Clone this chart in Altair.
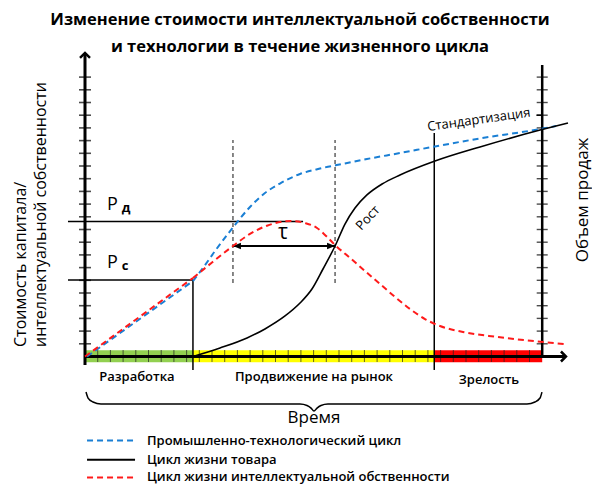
import altair as alt
import pandas as pd

# ---------------- data (x = time in tick units, y = value in tick units) ----------------
# industrial-technological cycle (blue dashed): straight start, then curve
blue_start_t = [0.16, 8.50]
blue_start_v = [0.00, 5.94]
blue_t = [8.50, 9.29, 10.24, 11.65, 12.99, 14.17, 15.35, 16.93, 18.50, 20.47, 22.20, 24.80, 27.56, 31.10, 35.83, 37.09]
blue_v = [5.94, 6.97, 8.31, 10.16, 11.77, 12.87, 13.62, 14.37, 14.80, 15.20, 15.55, 16.02, 16.54, 17.17, 17.91, 18.15]
# product life cycle (black solid)
black_t = [8.50, 10.63, 12.76, 14.17, 15.75, 16.93, 17.87, 18.74, 19.69, 20.47, 21.26, 22.20, 23.39, 24.80, 27.56, 31.10, 35.83, 38.03]
black_v = [0.00, 0.67, 1.46, 2.17, 3.19, 4.21, 5.31, 6.89, 8.70, 10.43, 11.69, 12.72, 13.58, 14.29, 15.39, 16.50, 17.83, 18.39]
# intellectual property life cycle (red dashed): straight start, then curve
red_start_t = [0.00, 8.50]
red_start_v = [0.00, 6.18]
red_t = [8.50, 10.00, 11.65, 12.99, 14.33, 15.59, 16.22, 17.32, 18.27, 18.98, 19.69, 20.87, 22.05, 23.23, 24.41,
         25.59, 26.77, 27.95, 29.76, 32.44, 36.06, 37.80]
red_v = [6.18, 7.40, 8.70, 9.65, 10.30, 10.62, 10.67, 10.51, 10.12, 9.49, 8.78, 7.76, 6.73, 5.71, 4.69,
         3.74, 2.95, 2.40, 1.93, 1.54, 1.14, 0.98]

P_D = 10.63          # Pд level
P_C = 6.02           # Pс level
T_DEV_END = 8.5      # end of development
T_MATURE = 27.5      # start of maturity / standardisation
T_END = 36           # right (sales) axis
TAU = [11.65, 19.69] # τ interval
Y_TICKS = list(range(1, 23))
X_TICKS = list(range(1, 36))

phases = ["Разработка", "Продвижение на рынок", "Зрелость"]
phase_start = [0, 8.5, 27.5]
phase_end = [8.5, 27.5, 36]
phase_colors = ["#92d050", "#ffff00", "#ff0000"]
phase_label_t = [4.09, 18.03, 31.81]
phase_label_v = [-1.61, -1.61, -1.85]

legend_labels = ["Промышленно-технологический цикл", "Цикл жизни товара",
                 "Цикл жизни интеллектуальной обственности"]
legend_v = [-6.62, -8.12, -9.52]

brace_t = [0.08, 0.24, 0.63, 1.26, 16.93, 17.48, 17.80, 18.03, 18.27, 18.58, 19.13, 34.80, 35.43, 35.83, 35.98]
brace_v = [-2.80, -3.27, -3.58, -3.74, -3.74, -3.86, -4.06, -4.29, -4.06, -3.86, -3.74, -3.74, -3.58, -3.27, -2.80]

title_lines = ["Изменение стоимости интеллектуальной собственности",
               "и технологии в течение жизненного цикла"]
y_title = ["Стоимость капитала/", "интеллектуальной собственности"]
y2_title = "Объем продаж"

# ---------------- scales ----------------
XS = alt.Scale(domain=[-6.063, 39.921], nice=False, zero=False)
YS = alt.Scale(domain=[-10.118, 27.441], nice=False, zero=False)
FONT = "Open Sans"
BLUE = "#1a7fd4"
RED = "#ff1a1a"


def ex(f):
    return alt.X(f, type="quantitative", scale=XS, axis=None)


def ey(f):
    return alt.Y(f, type="quantitative", scale=YS, axis=None)


def curve(ts, vs, color, dash=None, width=2.0, interp="monotone"):
    df = pd.DataFrame({"t": ts, "v": vs, "i": list(range(len(ts)))})
    kw = dict(color=color, strokeWidth=width, interpolate=interp)
    if dash:
        kw["strokeDash"] = dash
    return alt.Chart(df).mark_line(**kw).encode(x=ex("t"), y=ey("v"), order="i:Q")


def segs(rows, **style):
    df = pd.DataFrame(rows, columns=["t", "t2", "v", "v2"])
    return alt.Chart(df).mark_rule(**style).encode(x=ex("t"), x2="t2", y=ey("v"), y2="v2")


def texts(rows, **style):
    df = pd.DataFrame(rows, columns=["t", "v", "label"])
    return alt.Chart(df).mark_text(font=FONT, **style).encode(x=ex("t"), y=ey("v"), text="label:N")


layers = []

# phase band
band = pd.DataFrame({"t": phase_start, "t2": phase_end, "phase": phases,
                     "v": [-0.45] * 3, "v2": [0.5] * 3})
layers.append(alt.Chart(band).mark_rect().encode(
    x=ex("t"), x2="t2", y=ey("v"), y2="v2",
    color=alt.Color("phase:N", scale=alt.Scale(domain=phases, range=phase_colors), legend=None)))
# band ticks
layers.append(alt.Chart(pd.DataFrame({"t": X_TICKS, "v": [0.04] * len(X_TICKS)})).mark_tick(
    orient="vertical", size=12, thickness=1, color="#222").encode(x=ex("t"), y=ey("v")))

# axes
layers.append(segs([[0, 0, -0.67, 23.9]], color="black", strokeWidth=3))          # left axis
layers.append(segs([[0, 37.8, 0, 0]], color="black", strokeWidth=3))             # time axis
layers.append(segs([[T_END, T_END, 0, 22.95]], color="black", strokeWidth=2.5))  # sales axis
layers.append(alt.Chart(pd.DataFrame({"t": [0] * len(Y_TICKS), "v": Y_TICKS})).mark_tick(
    orient="horizontal", size=12, thickness=1.6, color="black").encode(x=ex("t"), y=ey("v")))
layers.append(alt.Chart(pd.DataFrame({"t": [T_END] * len(Y_TICKS), "v": Y_TICKS})).mark_tick(
    orient="horizontal", size=11, thickness=1.4, color="black").encode(x=ex("t"), y=ey("v")))
# arrow heads
layers.append(alt.Chart(pd.DataFrame({"t": [0], "v": [23.9]})).mark_point(
    shape="M-1,1L0,0L1,1", size=100, filled=False, strokeWidth=2.5, color="black", opacity=1
).encode(x=ex("t"), y=ey("v")))
layers.append(alt.Chart(pd.DataFrame({"t": [37.87], "v": [0]})).mark_point(
    shape="M-1,-1L0,0L-1,1", size=100, filled=False, strokeWidth=2.5, color="black", opacity=1
).encode(x=ex("t"), y=ey("v")))

# Pд / Pс guide lines, phase boundaries
layers.append(segs([[-1.34, 17.17, P_D, P_D], [-1.34, T_DEV_END, P_C, P_C],
                    [T_DEV_END, T_DEV_END, -1.06, P_C], [T_MATURE, T_MATURE, -1.06, 17.6],
                    [35.55, T_END, 19.0, 19.0]],
                   color="black", strokeWidth=1.5))
# τ dashed guides
layers.append(segs([[TAU[0], TAU[0], 5.79, 17.05], [TAU[1], TAU[1], 5.79, 17.05]],
                   color="#555", strokeWidth=1.4, strokeDash=[4, 3]))
# τ arrow
layers.append(segs([[TAU[0], TAU[1], 8.70, 8.70]], color="black", strokeWidth=2))
layers.append(alt.Chart(pd.DataFrame({"t": [TAU[0]], "v": [8.70]})).mark_point(
    shape="M0,0L2,-0.8L2,0.8Z", size=64, filled=True, color="black", opacity=1
).encode(x=ex("t"), y=ey("v")))
layers.append(alt.Chart(pd.DataFrame({"t": [TAU[1]], "v": [8.70]})).mark_point(
    shape="M0,0L-2,-0.8L-2,0.8Z", size=64, filled=True, color="black", opacity=1
).encode(x=ex("t"), y=ey("v")))

# curves
layers.append(curve(blue_start_t, blue_start_v, BLUE, dash=[6, 4], width=2, interp="linear"))
layers.append(curve(blue_t, blue_v, BLUE, dash=[6, 4], width=2))
layers.append(curve(black_t, black_v, "black", width=1.6))
layers.append(curve(red_start_t, red_start_v, RED, dash=[6, 4], width=2, interp="linear"))
layers.append(curve(red_t, red_v, RED, dash=[6, 4], width=2))

# brace
layers.append(curve(brace_t, brace_v, "black", width=1.5))

# legend samples
layers.append(segs([[0.16, 3.94, legend_v[0], legend_v[0]]], color=BLUE, strokeWidth=2, strokeDash=[6, 4]))
layers.append(segs([[0.16, 3.94, legend_v[1], legend_v[1]]], color="black", strokeWidth=2))
layers.append(segs([[0.16, 3.94, legend_v[2], legend_v[2]]], color=RED, strokeWidth=2, strokeDash=[6, 4]))
layers.append(texts([[4.88, v, l] for v, l in zip(legend_v, legend_labels)],
                    align="left", baseline="middle", fontSize=13, fontWeight=600, color="black"))

# texts
layers.append(texts([[16.93, 26.5, title_lines[0]], [16.93, 24.4, title_lines[1]]],
                    align="center", baseline="middle", fontSize=16.5, fontWeight="bold", color="black"))
layers.append(texts([[t, v, l] for t, v, l in zip(phase_label_t, phase_label_v, phases)],
                    align="center", baseline="middle", fontSize=13, fontWeight=600, color="black"))
layers.append(texts([[18.03, -4.84, "Время"]], align="center", baseline="middle", fontSize=17, color="black"))
layers.append(texts([[1.73, 11.54, "Р"], [1.73, 6.97, "Р"]],
                    align="left", baseline="alphabetic", fontSize=18, color="black"))
layers.append(texts([[2.9, 11.35, "д"], [2.9, 6.85, "с"]],
                    align="left", baseline="alphabetic", fontSize=13, fontWeight="bold", color="black"))
layers.append(texts([[15.59, 9.72, "τ"]], align="center", baseline="middle", fontSize=21, color="black"))
layers.append(texts([[27.0, 17.76, "Стандартизация"]], align="left", baseline="alphabetic",
                    fontSize=13, angle=352, color="black"))
layers.append(texts([[22.28, 10.9, "Рост"]], align="center", baseline="middle",
                    fontSize=13, angle=313, color="black"))
layers.append(texts([[-5.04, 0.75, y_title[0]], [-3.46, 0.75, y_title[1]]], align="left",
                    baseline="middle", fontSize=16, angle=270, color="black"))
layers.append(texts([[39.21, 12.32, y2_title]], align="center", baseline="middle",
                    fontSize=17, angle=270, color="black"))

chart = alt.layer(*layers).properties(
    width=584, height=477,
    autosize=alt.AutoSizeParams(type="none"),
    padding=0,
    background="white",
).configure_view(stroke=None)

chart.save("out.html", embed_options={"renderer": "svg", "actions": False})
